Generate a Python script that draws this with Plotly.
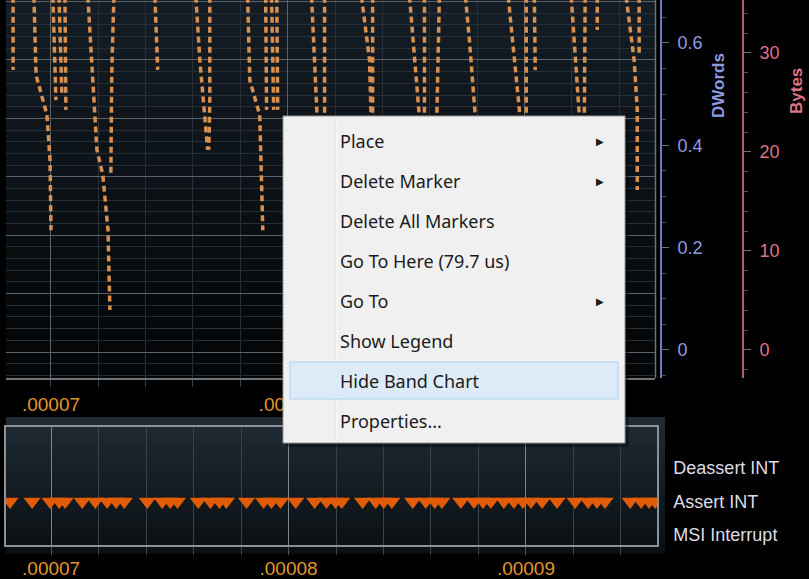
import plotly.graph_objects as go

W, H = 809, 579

# ---------------- data ----------------
# time axis in microseconds (labels shown in seconds)
TICK_US = [70, 80, 90]
TICK_TEXT = [".00007", ".00008", ".00009"]

# "Assert INT" band events (µs)
ASSERT_INT_US = [68.27, 69.20, 69.96, 70.34, 70.59, 71.31, 71.86, 72.36, 72.74, 73.08,
                 74.05, 74.68, 75.02, 75.32, 76.20, 76.71, 77.09, 77.38, 78.23, 78.95,
                 79.28, 79.66, 80.30, 81.10, 81.60, 81.98, 82.24, 83.12, 83.67, 84.01,
                 84.35, 85.23, 85.78, 86.16, 86.46, 87.26, 87.81, 88.19, 88.52, 89.07,
                 89.49, 89.87, 90.21, 90.68, 91.31, 92.07, 92.62, 92.99, 93.33, 94.39,
                 94.85, 95.19, 95.44]
BAND_LABELS = ["MSI Interrupt", "Assert INT", "Deassert INT"]

# dashed strands in the top chart: time (µs) and DWords value
STRAND_T = [
    [68.40, 68.40],
    [69.28, 69.37, 69.83, 69.96, 70.00],
    [70.08, 70.21],
    [70.34, 70.46],
    [70.59, 70.63],
    [71.56, 71.86, 71.94, 72.19, 72.41, 72.49],
    [72.66, 72.57, 72.53],
    [74.39, 74.51],
    [76.12, 76.29, 76.62],
    [76.71, 76.71, 76.67],
    [78.31, 78.40, 78.82, 78.95],
    [79.07, 79.11],
    [79.32, 79.41],
    [79.54, 79.58],
    [81.01, 81.27],
    [81.56, 81.56],
    [83.12, 83.46, 83.54],
    [83.59, 83.59],
    [85.15, 85.57, 85.61],
    [85.78, 85.78],
    [86.41, 86.29],
    [87.51, 87.68, 87.97],
    [89.32, 89.79, 89.83],
    [90.08, 90.08],
    [90.42, 90.46],
    [91.98, 92.32, 92.32],
    [92.57, 92.53],
    [93.08, 93.08],
    [94.30, 94.64, 94.77, 94.77],
    [94.85, 94.85],
]
STRAND_DW = [
    [0.69, 0.547],
    [0.69, 0.537, 0.459, 0.371, 0.234],
    [0.69, 0.488],
    [0.69, 0.498],
    [0.69, 0.469],
    [0.69, 0.469, 0.391, 0.342, 0.234, 0.078],
    [0.69, 0.547, 0.342],
    [0.69, 0.547],
    [0.69, 0.566, 0.391],
    [0.69, 0.488, 0.391],
    [0.69, 0.527, 0.459, 0.234],
    [0.69, 0.469],
    [0.69, 0.469],
    [0.69, 0.469],
    [0.69, 0.430],
    [0.69, 0.430],
    [0.69, 0.566, 0.430],
    [0.69, 0.430],
    [0.69, 0.469, 0.430],
    [0.69, 0.430],
    [0.69, 0.430],
    [0.69, 0.605, 0.430],
    [0.69, 0.469, 0.430],
    [0.69, 0.430],
    [0.69, 0.547],
    [0.69, 0.459, 0.430],
    [0.69, 0.430],
    [0.69, 0.625],
    [0.69, 0.566, 0.469, 0.3125],
    [0.69, 0.576],
]

MENU_ITEMS = ["Place", "Delete Marker", "Delete All Markers", "Go To Here (79.7 us)",
              "Go To", "Show Legend", "Hide Band Chart", "Properties..."]
MENU_SUBMENU = [True, True, False, False, True, False, False, False]


# ---------------- helpers (pixel -> paper) ----------------
def px(x):
    return x / W


def py(y):
    return 1 - y / H


TOP_DOMAIN = [py(378), 1]
ORANGE_TXT = "#e3962c"
fig = go.Figure()

# empty traces so that the grid axis and the Bytes axis are drawn
fig.add_trace(go.Scatter(x=[], y=[], xaxis="x", yaxis="y", showlegend=False, hoverinfo="skip"))
fig.add_trace(go.Scatter(x=[], y=[], xaxis="x", yaxis="y3", showlegend=False, hoverinfo="skip"))

for t, dw in zip(STRAND_T, STRAND_DW):
    fig.add_trace(go.Scatter(
        x=t, y=dw, xaxis="x", yaxis="y2", mode="lines",
        line=dict(color="#d98f4e", width=3.5, dash="6px,4px"),
        showlegend=False, hoverinfo="skip"))

fig.add_trace(go.Scatter(
    x=ASSERT_INT_US, y=[1] * len(ASSERT_INT_US), xaxis="x2", yaxis="y4",
    mode="markers", marker=dict(symbol="triangle-down", size=15, color="#e25c08",
                                line=dict(width=0)),
    showlegend=False, hoverinfo="skip"))

X_RANGE = [68.10, 95.52]

shapes = []
# gradient background of top chart
top_c0 = (20, 29, 37)
top_c1 = (4, 6, 7)
N = 14
for i in range(N):
    f = i / (N - 1)
    c = tuple(int(top_c0[k] + (top_c1[k] - top_c0[k]) * f) for k in range(3))
    y0 = 378 * i / N
    y1 = 378 * (i + 1) / N + 0.5
    shapes.append(dict(type="rect", xref="paper", yref="paper", layer="below",
                       x0=px(6), x1=px(655), y0=py(y0), y1=py(y1),
                       fillcolor="rgb(%d,%d,%d)" % c, line=dict(width=0)))
# band panel gradient
b_c0 = (31, 42, 51)
b_c1 = (11, 16, 20)
for i in range(N):
    f = i / (N - 1)
    c = tuple(int(b_c0[k] + (b_c1[k] - b_c0[k]) * f) for k in range(3))
    y0 = 417 + (553 - 417) * i / N
    y1 = 417 + (553 - 417) * (i + 1) / N + 0.5
    shapes.append(dict(type="rect", xref="paper", yref="paper", layer="below",
                       x0=px(6), x1=px(665), y0=py(y0), y1=py(y1),
                       fillcolor="rgb(%d,%d,%d)" % c, line=dict(width=0)))
# right border of top chart
shapes.append(dict(type="line", xref="paper", yref="paper", layer="above",
                   x0=px(655.5), x1=px(655.5), y0=py(0), y1=py(378),
                   line=dict(color="#6c7479", width=1.5)))
# context menu
shapes.append(dict(type="rect", xref="paper", yref="paper", layer="above",
                   x0=px(287), x1=px(629), y0=py(120), y1=py(447),
                   fillcolor="rgba(0,0,0,0.35)", line=dict(width=0)))
shapes.append(dict(type="rect", xref="paper", yref="paper", layer="above",
                   x0=px(283), x1=px(625), y0=py(116), y1=py(443),
                   fillcolor="#f0f0f0", line=dict(color="#979797", width=1)))
shapes.append(dict(type="line", xref="paper", yref="paper", layer="above",
                   x0=px(336), x1=px(336), y0=py(119), y1=py(440),
                   line=dict(color="#e2e3e3", width=1)))
shapes.append(dict(type="line", xref="paper", yref="paper", layer="above",
                   x0=px(337), x1=px(337), y0=py(119), y1=py(440),
                   line=dict(color="#ffffff", width=1)))
shapes.append(dict(type="rect", xref="paper", yref="paper", layer="above",
                   x0=px(290), x1=px(618), y0=py(362), y1=py(399),
                   fillcolor="#dcebf7", line=dict(color="#a9d3f0", width=1)))

annotations = []
for i, (item, sub) in enumerate(zip(MENU_ITEMS, MENU_SUBMENU)):
    yy = 141 + 40 * i
    annotations.append(dict(xref="paper", yref="paper", x=px(338), y=py(yy),
                            xanchor="left", yanchor="middle", showarrow=False,
                            text=item, font=dict(family="Noto Sans", size=18, color="#1b1b1b")))
    if sub:
        annotations.append(dict(xref="paper", yref="paper", x=px(600), y=py(yy),
                                xanchor="center", yanchor="middle", showarrow=False,
                                text="▶", font=dict(family="DejaVu Sans", size=10, color="#1b1b1b")))
annotations.append(dict(xref="paper", yref="paper", x=px(718), y=py(86),
                        xanchor="center", yanchor="middle", showarrow=False, textangle=-90,
                        text="<b>DWords</b>",
                        font=dict(family="Liberation Sans Narrow, Liberation Sans", size=17, color="#8e9ae4")))
annotations.append(dict(xref="paper", yref="paper", x=px(797), y=py(91),
                        xanchor="center", yanchor="middle", showarrow=False, textangle=-90,
                        text="<b>Bytes</b>",
                        font=dict(family="Liberation Sans Narrow, Liberation Sans", size=17, color="#de7486")))

tick_font = dict(family="Liberation Sans", size=19, color=ORANGE_TXT)

fig.update_layout(
    width=W, height=H, autosize=False,
    margin=dict(l=0, r=0, t=0, b=0, pad=0, autoexpand=False),
    paper_bgcolor="#000000", plot_bgcolor="rgba(0,0,0,0)",
    showlegend=False,
    shapes=shapes, annotations=annotations,
    xaxis=dict(domain=[px(6), px(655)], anchor="y", range=X_RANGE, automargin=False,
               tickmode="array", tickvals=TICK_US, ticktext=TICK_TEXT,
               showgrid=True, gridcolor="#5b6368", gridwidth=1,
               ticks="outside", ticklen=7, tickcolor="#3a4349",
               minor=dict(tickmode="linear", tick0=70, dtick=2, showgrid=True,
                          gridcolor="#273038", ticks="outside", ticklen=7, tickcolor="#3a4349"),
               showline=True, linecolor="#6c7479", linewidth=1.5,
               zeroline=False, tickfont=tick_font, ticklabelstandoff=1),
    yaxis=dict(domain=TOP_DOMAIN, anchor="x", range=[-0.445, 6.027], automargin=False,
               tickmode="linear", tick0=0, dtick=1, showticklabels=False, ticks="",
               showgrid=True, gridcolor="#5b6368", gridwidth=1.3,
               minor=dict(tickmode="linear", tick0=0, dtick=0.2, showgrid=True, gridcolor="#252e35"),
               zeroline=False, showline=False),
    yaxis2=dict(overlaying="y", side="right", anchor="free", position=px(661),
                domain=TOP_DOMAIN, automargin=False,
                range=[-0.0547, 0.6836], tickmode="linear", tick0=0, dtick=0.2,
                showgrid=False, zeroline=False,
                showline=True, linecolor="#7078c8", linewidth=2,
                ticks="outside", ticklen=7, tickcolor="#6d6f85", ticklabelstandoff=5,
                minor=dict(tickmode="linear", tick0=0, dtick=0.05, ticks="outside",
                           ticklen=4, tickcolor="#4d4f60"),
                tickfont=dict(family="Liberation Sans", size=18, color="#8e9ae4")),
    yaxis3=dict(overlaying="y", side="right", anchor="free", position=px(743),
                domain=TOP_DOMAIN, automargin=False,
                range=[-2.83, 35.35], tickmode="linear", tick0=0, dtick=10,
                showgrid=False, zeroline=False,
                showline=True, linecolor="#b25d70", linewidth=2,
                ticks="outside", ticklen=7, tickcolor="#6d6f85", ticklabelstandoff=5,
                minor=dict(tickmode="linear", tick0=0, dtick=2, ticks="outside",
                           ticklen=4, tickcolor="#4d4f60"),
                tickfont=dict(family="Liberation Sans", size=18, color="#de7486")),
    xaxis2=dict(domain=[px(6), px(657)], anchor="y4", range=X_RANGE, automargin=False,
                tickmode="array", tickvals=TICK_US, ticktext=TICK_TEXT,
                showgrid=True, gridcolor="#7d868c", gridwidth=1.3,
                ticks="outside", ticklen=8, tickcolor="#4a535a",
                minor=dict(tickmode="linear", tick0=70, dtick=2, showgrid=True,
                           gridcolor="#39424a", ticks="outside", ticklen=8, tickcolor="#3a4349"),
                showline=True, mirror=True, linecolor="#8a9197", linewidth=1.5,
                zeroline=False, tickfont=tick_font, ticklabelstandoff=-3),
    yaxis4=dict(domain=[py(545), py(427)], anchor="x2", side="right", automargin=False,
                range=[-0.30, 3.22], tickmode="array", tickvals=[0, 1, 2],
                ticktext=BAND_LABELS, showgrid=False, zeroline=False, ticks="",
                showline=True, mirror=True, linecolor="#8a9197", linewidth=1.5,
                ticklabelstandoff=11,
                tickfont=dict(family="Liberation Sans", size=18, color="#dcdce6")),
)

POST = (
    "document.documentElement.style.margin='0';"
    "document.documentElement.style.overflow='hidden';"
    "document.body.style.margin='0';"
    "document.body.style.overflow='hidden';"
    "document.body.style.background='#000';"
    "document.querySelectorAll('.svg-container').forEach(function(e){e.style.display='block';});"
    "document.querySelectorAll('.plotly-graph-div').forEach(function(e){e.style.display='block';e.style.lineHeight='0';});"
)
fig.write_html("out.html", config={"displayModeBar": False}, post_script=POST)
